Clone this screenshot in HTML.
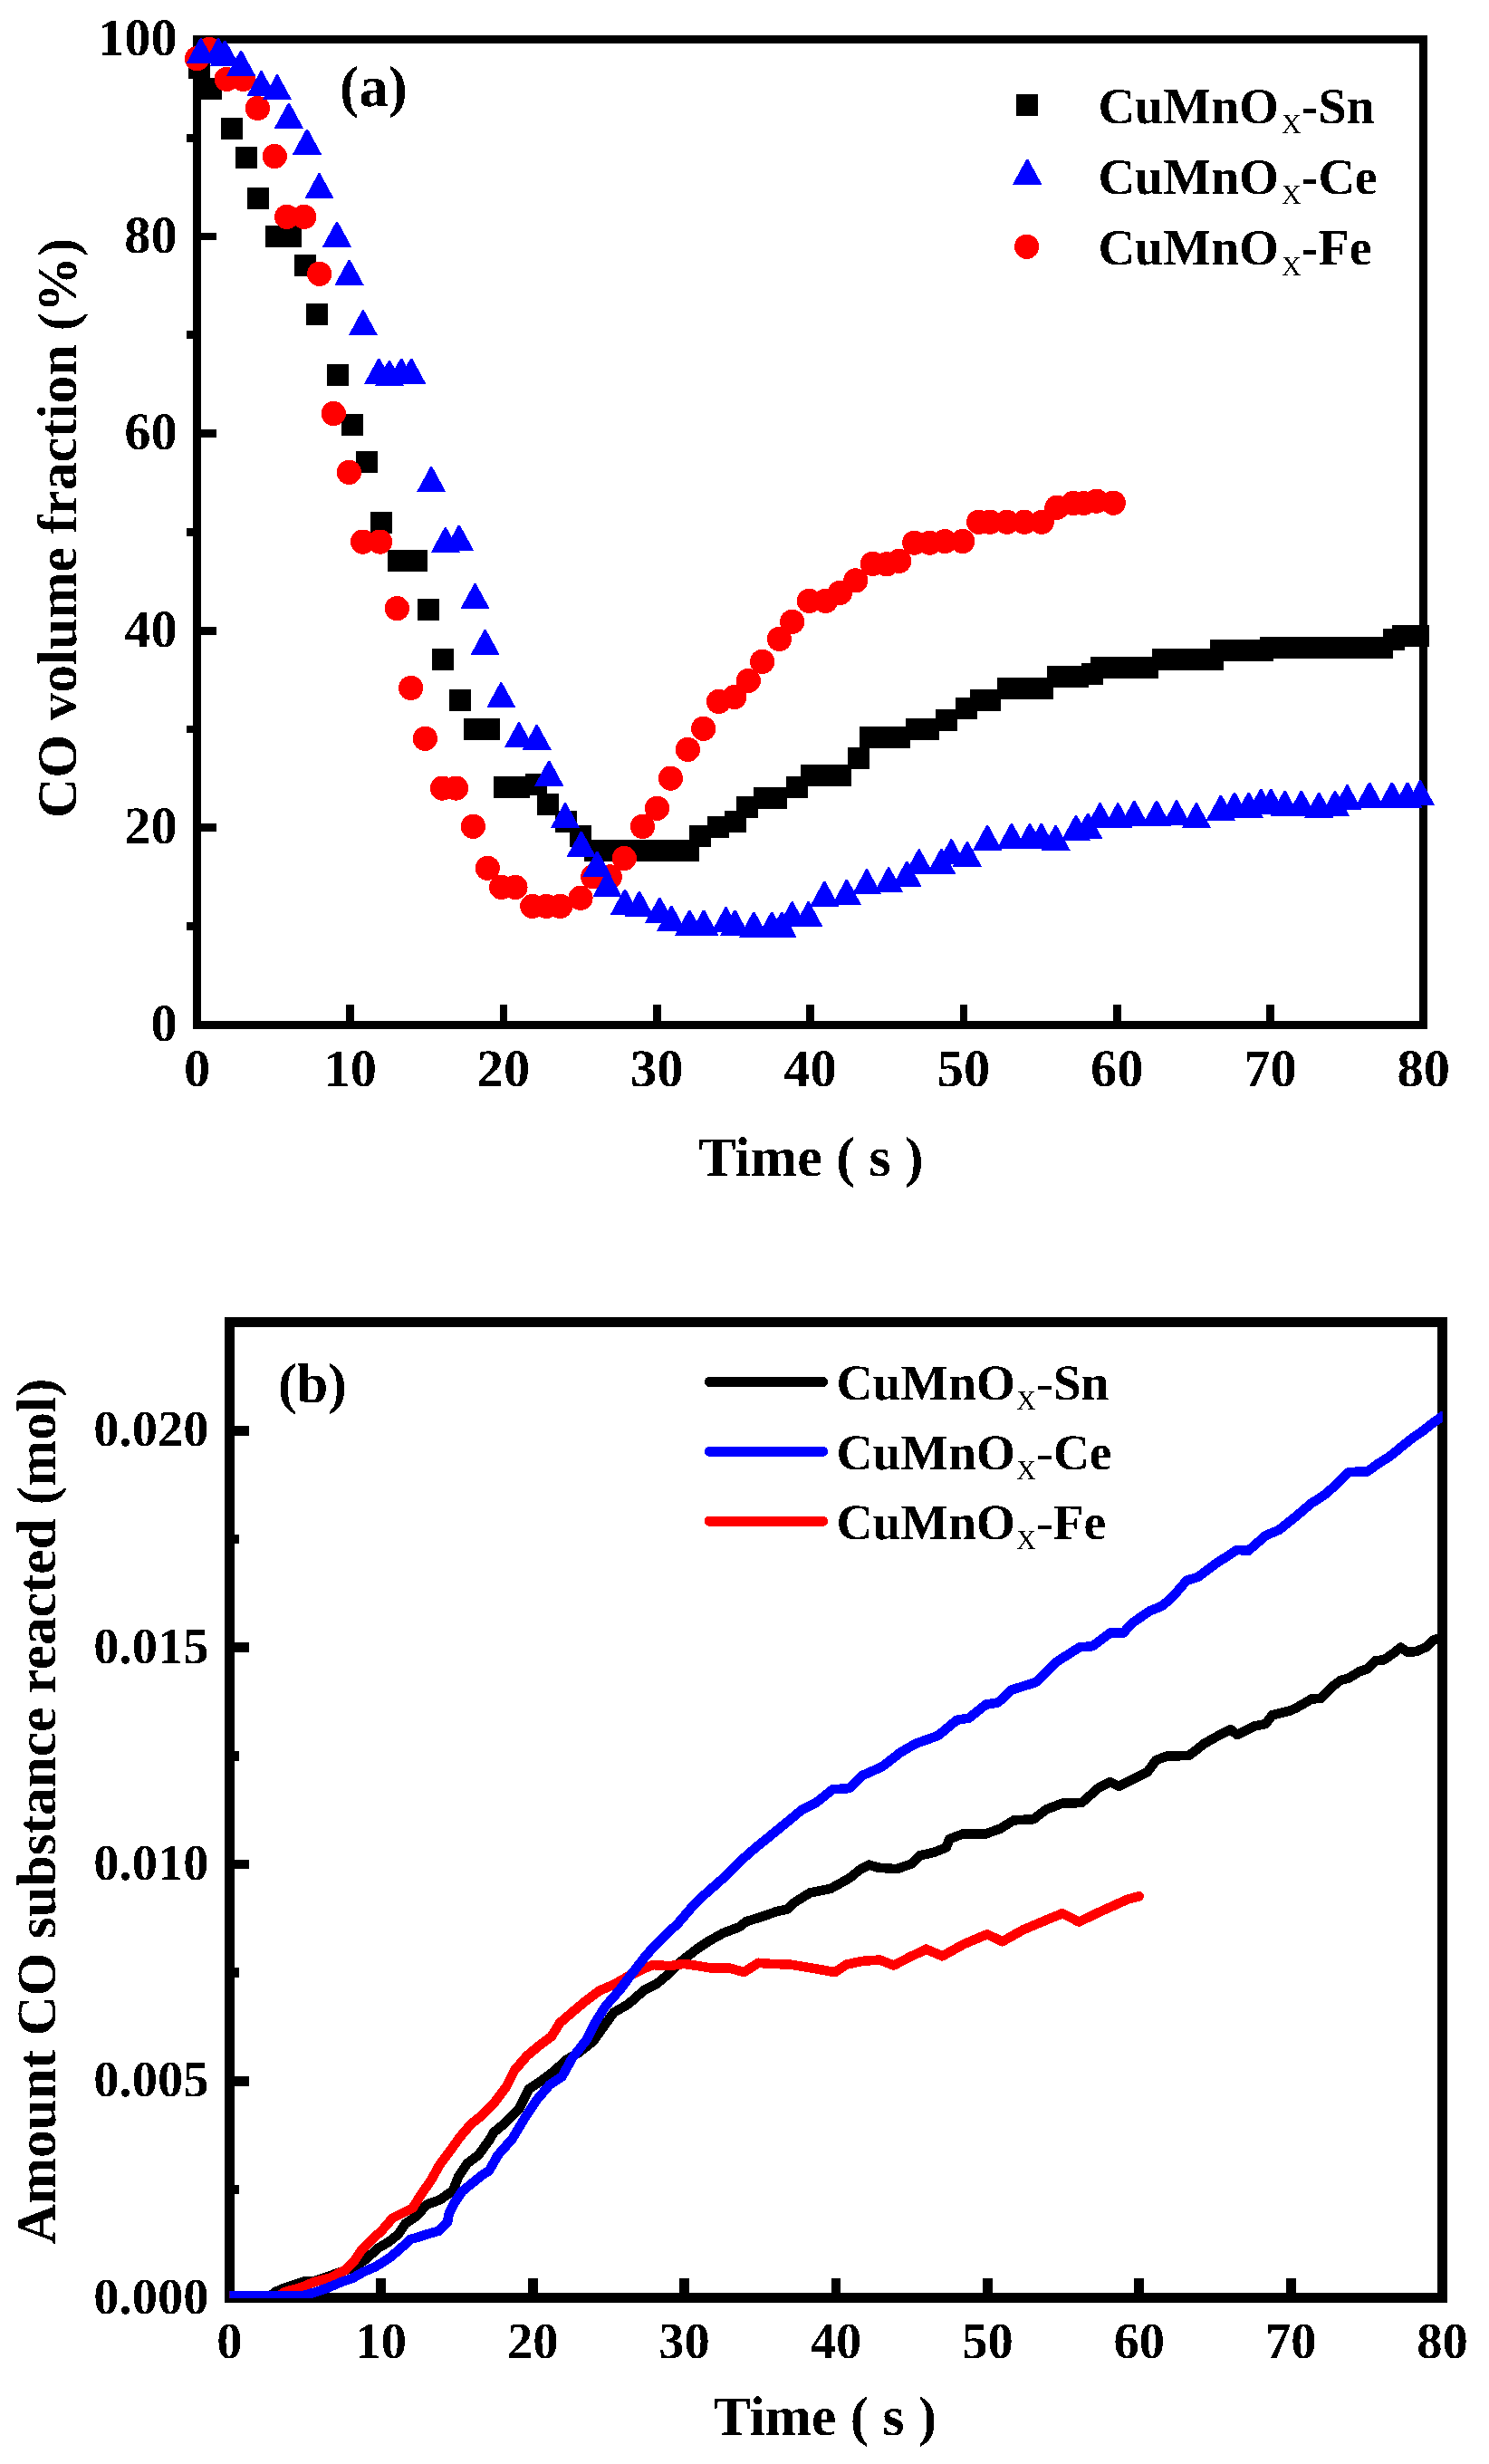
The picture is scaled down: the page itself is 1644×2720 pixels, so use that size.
<!DOCTYPE html>
<html lang="en"><head><meta charset="utf-8"><title>CO oxidation over CuMnOx catalysts</title>
<style>
html,body{margin:0;padding:0;background:#fff;}
body{width:1644px;height:2720px;overflow:hidden;}
svg{display:block;}
text{font-family:"Liberation Serif",serif;font-weight:bold;fill:#000;}
.sub{font-weight:normal;}
</style></head><body>
<svg width="1644" height="2720" viewBox="0 0 1644 2720" shape-rendering="crispEdges" text-rendering="geometricPrecision">
<rect x="0" y="0" width="1644" height="2720" fill="#fff"/>
<defs><filter id="thr" x="0" y="0" width="1644" height="2720" filterUnits="userSpaceOnUse" color-interpolation-filters="sRGB"><feComponentTransfer><feFuncA type="discrete" tableValues="0 1"/></feComponentTransfer></filter></defs>
<g id="chart-a">
<rect x="217.5" y="43.6" width="1354.2" height="1088.0" fill="none" stroke="#000" stroke-width="8.9"/>
<rect x="217.5" y="909.3" width="21.5" height="8.8" fill="#000"/>
<rect x="217.5" y="691.7" width="21.5" height="8.8" fill="#000"/>
<rect x="217.5" y="474.2" width="21.5" height="8.8" fill="#000"/>
<rect x="217.5" y="256.6" width="21.5" height="8.8" fill="#000"/>
<rect x="206" y="1018.0" width="8" height="8.8" fill="#000"/>
<rect x="206" y="800.5" width="8" height="8.8" fill="#000"/>
<rect x="206" y="583.0" width="8" height="8.8" fill="#000"/>
<rect x="206" y="365.4" width="8" height="8.8" fill="#000"/>
<rect x="206" y="147.9" width="8" height="8.8" fill="#000"/>
<rect x="382.4" y="1109" width="8.7" height="20" fill="#000"/>
<rect x="551.7" y="1109" width="8.7" height="20" fill="#000"/>
<rect x="721.0" y="1109" width="8.7" height="20" fill="#000"/>
<rect x="890.2" y="1109" width="8.7" height="20" fill="#000"/>
<rect x="1059.5" y="1109" width="8.7" height="20" fill="#000"/>
<rect x="1228.8" y="1109" width="8.7" height="20" fill="#000"/>
<rect x="1398.1" y="1109" width="8.7" height="20" fill="#000"/>
<g fill="#000">
<rect x="207.9" y="62.7" width="24" height="24"/>
<rect x="221.0" y="85.8" width="24" height="24"/>
<rect x="244.1" y="129.8" width="24" height="24"/>
<rect x="260.0" y="162.1" width="24" height="24"/>
<rect x="272.9" y="207.0" width="24" height="24"/>
<rect x="293.1" y="249.0" width="24" height="24"/>
<rect x="309.0" y="249.0" width="24" height="24"/>
<rect x="325.0" y="280.9" width="24" height="24"/>
<rect x="337.9" y="334.9" width="24" height="24"/>
<rect x="360.5" y="401.9" width="24" height="24"/>
<rect x="377.0" y="456.8" width="24" height="24"/>
<rect x="393.0" y="497.9" width="24" height="24"/>
<rect x="409.0" y="565.0" width="24" height="24"/>
<rect x="427.9" y="606.9" width="24" height="24"/>
<rect x="448.1" y="606.9" width="24" height="24"/>
<rect x="461.0" y="661.3" width="24" height="24"/>
<rect x="476.9" y="715.9" width="24" height="24"/>
<rect x="495.9" y="761.0" width="24" height="24"/>
<rect x="512.1" y="792.9" width="24" height="24"/>
<rect x="528.0" y="792.9" width="24" height="24"/>
<rect x="545.0" y="857.1" width="24" height="24"/>
<rect x="560.7" y="857.1" width="24" height="24"/>
<rect x="579.9" y="854.0" width="24" height="24"/>
<rect x="593.0" y="875.9" width="24" height="24"/>
<rect x="612.9" y="894.9" width="24" height="24"/>
<rect x="629.0" y="911.0" width="24" height="24"/>
<rect x="645.1" y="926.8" width="24" height="24"/>
<rect x="662.2" y="926.8" width="24" height="24"/>
<rect x="679.4" y="926.8" width="24" height="24"/>
<rect x="696.5" y="926.8" width="24" height="24"/>
<rect x="713.7" y="926.8" width="24" height="24"/>
<rect x="730.8" y="926.8" width="24" height="24"/>
<rect x="748.0" y="926.8" width="24" height="24"/>
<rect x="761.0" y="911.1" width="24" height="24"/>
<rect x="781.0" y="901.0" width="24" height="24"/>
<rect x="800.0" y="894.9" width="24" height="24"/>
<rect x="812.9" y="878.8" width="24" height="24"/>
<rect x="832.1" y="868.9" width="24" height="24"/>
<rect x="845.0" y="868.9" width="24" height="24"/>
<rect x="868.0" y="856.9" width="24" height="24"/>
<rect x="884.1" y="844.0" width="24" height="24"/>
<rect x="900.0" y="844.0" width="24" height="24"/>
<rect x="915.9" y="844.0" width="24" height="24"/>
<rect x="935.9" y="825.0" width="24" height="24"/>
<rect x="949.1" y="801.9" width="24" height="24"/>
<rect x="965.0" y="801.9" width="24" height="24"/>
<rect x="981.0" y="801.9" width="24" height="24"/>
<rect x="999.9" y="793.0" width="24" height="24"/>
<rect x="1012.8" y="793.0" width="24" height="24"/>
<rect x="1033.0" y="782.9" width="24" height="24"/>
<rect x="1055.0" y="770.0" width="24" height="24"/>
<rect x="1070.9" y="760.9" width="24" height="24"/>
<rect x="1081.0" y="760.9" width="24" height="24"/>
<rect x="1100.9" y="748.0" width="24" height="24"/>
<rect x="1119.9" y="748.0" width="24" height="24"/>
<rect x="1138.8" y="748.0" width="24" height="24"/>
<rect x="1155.9" y="734.9" width="24" height="24"/>
<rect x="1177.9" y="734.9" width="24" height="24"/>
<rect x="1194.0" y="732.0" width="24" height="24"/>
<rect x="1204.1" y="725.4" width="24" height="24"/>
<rect x="1221.1" y="725.4" width="24" height="24"/>
<rect x="1238.0" y="725.4" width="24" height="24"/>
<rect x="1255.1" y="725.4" width="24" height="24"/>
<rect x="1272.0" y="715.9" width="24" height="24"/>
<rect x="1290.3" y="715.9" width="24" height="24"/>
<rect x="1308.6" y="715.9" width="24" height="24"/>
<rect x="1326.9" y="715.9" width="24" height="24"/>
<rect x="1336.0" y="706.0" width="24" height="24"/>
<rect x="1351.3" y="706.0" width="24" height="24"/>
<rect x="1366.6" y="706.0" width="24" height="24"/>
<rect x="1381.9" y="706.0" width="24" height="24"/>
<rect x="1391.0" y="703.0" width="24" height="24"/>
<rect x="1408.6" y="703.0" width="24" height="24"/>
<rect x="1426.1" y="703.0" width="24" height="24"/>
<rect x="1443.7" y="703.0" width="24" height="24"/>
<rect x="1461.2" y="703.0" width="24" height="24"/>
<rect x="1478.8" y="703.0" width="24" height="24"/>
<rect x="1496.3" y="703.0" width="24" height="24"/>
<rect x="1513.9" y="703.0" width="24" height="24"/>
<rect x="1527.1" y="693.5" width="24" height="24"/>
<rect x="1537.3" y="690.0" width="24" height="24"/>
<rect x="1553.8" y="690.0" width="24" height="24"/>
</g>
<g fill="#ff0000">
<circle cx="217.5" cy="64.6" r="13.6"/>
<circle cx="231.0" cy="54.6" r="13.6"/>
<circle cx="250.2" cy="87.4" r="13.6"/>
<circle cx="268.5" cy="87.4" r="13.6"/>
<circle cx="284.4" cy="119.5" r="13.6"/>
<circle cx="303.3" cy="172.5" r="13.6"/>
<circle cx="316.6" cy="239.4" r="13.6"/>
<circle cx="335.7" cy="239.4" r="13.6"/>
<circle cx="352.7" cy="302.3" r="13.6"/>
<circle cx="368.3" cy="456.5" r="13.6"/>
<circle cx="385.4" cy="521.4" r="13.6"/>
<circle cx="400.5" cy="598.1" r="13.6"/>
<circle cx="419.6" cy="598.1" r="13.6"/>
<circle cx="438.4" cy="671.6" r="13.6"/>
<circle cx="453.6" cy="759.5" r="13.6"/>
<circle cx="469.4" cy="815.3" r="13.6"/>
<circle cx="488.4" cy="870.1" r="13.6"/>
<circle cx="503.6" cy="870.1" r="13.6"/>
<circle cx="522.4" cy="912.3" r="13.6"/>
<circle cx="538.3" cy="958.3" r="13.6"/>
<circle cx="553.6" cy="979.4" r="13.6"/>
<circle cx="569.0" cy="979.4" r="13.6"/>
<circle cx="587.8" cy="1000.4" r="13.6"/>
<circle cx="603.2" cy="1000.4" r="13.6"/>
<circle cx="618.6" cy="1000.4" r="13.6"/>
<circle cx="641.0" cy="991.3" r="13.6"/>
<circle cx="654.8" cy="967.9" r="13.6"/>
<circle cx="673.3" cy="967.9" r="13.6"/>
<circle cx="689.3" cy="947.5" r="13.6"/>
<circle cx="709.5" cy="912.4" r="13.6"/>
<circle cx="725.5" cy="892.3" r="13.6"/>
<circle cx="740.4" cy="859.2" r="13.6"/>
<circle cx="759.4" cy="827.4" r="13.6"/>
<circle cx="776.7" cy="804.3" r="13.6"/>
<circle cx="793.5" cy="774.5" r="13.6"/>
<circle cx="810.7" cy="769.5" r="13.6"/>
<circle cx="826.3" cy="751.5" r="13.6"/>
<circle cx="841.6" cy="730.4" r="13.6"/>
<circle cx="860.5" cy="705.4" r="13.6"/>
<circle cx="874.6" cy="686.4" r="13.6"/>
<circle cx="893.4" cy="663.4" r="13.6"/>
<circle cx="911.5" cy="663.4" r="13.6"/>
<circle cx="927.6" cy="654.3" r="13.6"/>
<circle cx="944.7" cy="640.9" r="13.6"/>
<circle cx="963.4" cy="622.4" r="13.6"/>
<circle cx="978.8" cy="622.8" r="13.6"/>
<circle cx="992.6" cy="619.4" r="13.6"/>
<circle cx="1009.7" cy="599.2" r="13.6"/>
<circle cx="1026.5" cy="599.2" r="13.6"/>
<circle cx="1043.3" cy="597.6" r="13.6"/>
<circle cx="1062.7" cy="597.5" r="13.6"/>
<circle cx="1080.6" cy="576.3" r="13.6"/>
<circle cx="1093.1" cy="576.3" r="13.6"/>
<circle cx="1111.8" cy="576.3" r="13.6"/>
<circle cx="1131.0" cy="576.3" r="13.6"/>
<circle cx="1150.3" cy="576.3" r="13.6"/>
<circle cx="1166.9" cy="560.2" r="13.6"/>
<circle cx="1184.8" cy="555.5" r="13.6"/>
<circle cx="1196.5" cy="555.5" r="13.6"/>
<circle cx="1210.6" cy="553.2" r="13.6"/>
<circle cx="1229.3" cy="555.2" r="13.6"/>
</g>
<g fill="#0000ff">
<polygon points="220.6,42.4 222.6,42.4 237.8,70.4 205.4,70.4"/>
<polygon points="240.1,42.4 242.1,42.4 257.3,70.4 224.9,70.4"/>
<polygon points="247.4,44.8 249.4,44.8 264.6,72.8 232.2,72.8"/>
<polygon points="265.1,55.9 267.1,55.9 282.3,83.9 249.9,83.9"/>
<polygon points="287.5,78.3 289.5,78.3 304.7,106.3 272.3,106.3"/>
<polygon points="305.0,82.4 307.0,82.4 322.2,110.4 289.8,110.4"/>
<polygon points="317.9,113.8 319.9,113.8 335.1,141.8 302.7,141.8"/>
<polygon points="338.0,142.7 340.0,142.7 355.2,170.7 322.8,170.7"/>
<polygon points="351.5,191.3 353.5,191.3 368.7,219.3 336.3,219.3"/>
<polygon points="371.0,244.8 373.0,244.8 388.2,272.8 355.8,272.8"/>
<polygon points="384.6,286.9 386.6,286.9 401.8,314.9 369.4,314.9"/>
<polygon points="399.9,342.4 401.9,342.4 417.1,370.4 384.7,370.4"/>
<polygon points="417.3,395.7 419.3,395.7 434.5,423.7 402.1,423.7"/>
<polygon points="429.0,397.9 431.0,397.9 446.2,425.9 413.8,425.9"/>
<polygon points="442.1,395.7 444.1,395.7 459.3,423.7 426.9,423.7"/>
<polygon points="453.1,395.7 455.1,395.7 470.3,423.7 437.9,423.7"/>
<polygon points="475.2,515.2 477.2,515.2 492.4,543.2 460.0,543.2"/>
<polygon points="490.8,582.2 492.8,582.2 508.0,610.2 475.6,610.2"/>
<polygon points="505.9,579.7 507.9,579.7 523.1,607.7 490.7,607.7"/>
<polygon points="523.5,644.2 525.5,644.2 540.7,672.2 508.3,672.2"/>
<polygon points="534.6,695.1 536.6,695.1 551.8,723.1 519.4,723.1"/>
<polygon points="552.3,753.3 554.3,753.3 569.5,781.3 537.1,781.3"/>
<polygon points="572.0,797.3 574.0,797.3 589.2,825.3 556.8,825.3"/>
<polygon points="591.7,800.0 593.7,800.0 608.9,828.0 576.5,828.0"/>
<polygon points="605.2,839.7 607.2,839.7 622.4,867.7 590.0,867.7"/>
<polygon points="623.0,886.3 625.0,886.3 640.2,914.3 607.8,914.3"/>
<polygon points="640.8,917.8 642.8,917.8 658.0,945.8 625.6,945.8"/>
<polygon points="658.4,939.7 660.4,939.7 675.6,967.7 643.2,967.7"/>
<polygon points="669.6,961.9 671.6,961.9 686.8,989.9 654.4,989.9"/>
<polygon points="689.0,981.7 691.0,981.7 706.2,1009.7 673.8,1009.7"/>
<polygon points="704.9,983.8 706.9,983.8 722.1,1011.8 689.7,1011.8"/>
<polygon points="727.3,990.7 729.3,990.7 744.5,1018.7 712.1,1018.7"/>
<polygon points="740.3,999.7 742.3,999.7 757.5,1027.7 725.1,1027.7"/>
<polygon points="760.3,1004.5 762.3,1004.5 777.5,1032.5 745.1,1032.5"/>
<polygon points="776.0,1004.5 778.0,1004.5 793.2,1032.5 760.8,1032.5"/>
<polygon points="800.5,1001.2 802.5,1001.2 817.7,1029.2 785.3,1029.2"/>
<polygon points="810.5,1004.6 812.5,1004.6 827.7,1032.6 795.3,1032.6"/>
<polygon points="831.3,1006.5 833.3,1006.5 848.5,1034.5 816.1,1034.5"/>
<polygon points="851.2,1006.5 853.2,1006.5 868.4,1034.5 836.0,1034.5"/>
<polygon points="862.3,1006.5 864.3,1006.5 879.5,1034.5 847.1,1034.5"/>
<polygon points="873.6,995.4 875.6,995.4 890.8,1023.4 858.4,1023.4"/>
<polygon points="891.5,995.4 893.5,995.4 908.7,1023.4 876.3,1023.4"/>
<polygon points="909.3,972.8 911.3,972.8 926.5,1000.8 894.1,1000.8"/>
<polygon points="933.8,970.8 935.8,970.8 951.0,998.8 918.6,998.8"/>
<polygon points="956.0,959.4 958.0,959.4 973.2,987.4 940.8,987.4"/>
<polygon points="980.2,957.4 982.2,957.4 997.4,985.4 965.0,985.4"/>
<polygon points="1000.3,950.6 1002.3,950.6 1017.5,978.6 985.1,978.6"/>
<polygon points="1013.7,937.4 1015.7,937.4 1030.9,965.4 998.5,965.4"/>
<polygon points="1038.3,937.1 1040.3,937.1 1055.5,965.1 1023.1,965.1"/>
<polygon points="1049.4,926.4 1051.4,926.4 1066.6,954.4 1034.2,954.4"/>
<polygon points="1066.9,929.0 1068.9,929.0 1084.1,957.0 1051.7,957.0"/>
<polygon points="1089.1,910.9 1091.1,910.9 1106.3,938.9 1073.9,938.9"/>
<polygon points="1115.9,908.9 1117.9,908.9 1133.1,936.9 1100.7,936.9"/>
<polygon points="1136.0,908.9 1138.0,908.9 1153.2,936.9 1120.8,936.9"/>
<polygon points="1148.7,908.9 1150.7,908.9 1165.9,936.9 1133.5,936.9"/>
<polygon points="1164.6,910.9 1166.6,910.9 1181.8,938.9 1149.4,938.9"/>
<polygon points="1187.0,899.8 1189.0,899.8 1204.2,927.8 1171.8,927.8"/>
<polygon points="1200.1,897.7 1202.1,897.7 1217.3,925.7 1184.9,925.7"/>
<polygon points="1213.6,886.3 1215.6,886.3 1230.8,914.3 1198.4,914.3"/>
<polygon points="1233.3,886.3 1235.3,886.3 1250.5,914.3 1218.1,914.3"/>
<polygon points="1251.3,883.7 1253.3,883.7 1268.5,911.7 1236.1,911.7"/>
<polygon points="1276.0,883.7 1278.0,883.7 1293.2,911.7 1260.8,911.7"/>
<polygon points="1298.1,883.4 1300.1,883.4 1315.3,911.4 1282.9,911.4"/>
<polygon points="1319.9,886.2 1321.9,886.2 1337.1,914.2 1304.7,914.2"/>
<polygon points="1346.9,877.7 1348.9,877.7 1364.1,905.7 1331.7,905.7"/>
<polygon points="1362.0,874.6 1364.0,874.6 1379.2,902.6 1346.8,902.6"/>
<polygon points="1377.7,874.6 1379.7,874.6 1394.9,902.6 1362.5,902.6"/>
<polygon points="1391.2,870.8 1393.2,870.8 1408.4,898.8 1376.0,898.8"/>
<polygon points="1402.3,870.8 1404.3,870.8 1419.5,898.8 1387.1,898.8"/>
<polygon points="1417.6,872.8 1419.6,872.8 1434.8,900.8 1402.4,900.8"/>
<polygon points="1435.8,872.8 1437.8,872.8 1453.0,900.8 1420.6,900.8"/>
<polygon points="1455.3,874.6 1457.3,874.6 1472.5,902.6 1440.1,902.6"/>
<polygon points="1473.0,872.8 1475.0,872.8 1490.2,900.8 1457.8,900.8"/>
<polygon points="1486.5,866.3 1488.5,866.3 1503.7,894.3 1471.3,894.3"/>
<polygon points="1511.1,863.5 1513.1,863.5 1528.3,891.5 1495.9,891.5"/>
<polygon points="1535.9,863.5 1537.9,863.5 1553.1,891.5 1520.7,891.5"/>
<polygon points="1553.0,863.5 1555.0,863.5 1570.2,891.5 1537.8,891.5"/>
<polygon points="1567.1,861.4 1569.1,861.4 1584.3,889.4 1551.9,889.4"/>
</g>
<rect x="1121.8" y="103.9" width="24" height="24" fill="#000"/>
<polygon points="1133.2,175.8 1135.2,175.8 1150.4,203.8 1118.0,203.8" fill="#0000ff"/>
<circle cx="1133.6" cy="272.3" r="13.6" fill="#ff0000"/>
</g>
<g id="chart-b">
<rect x="253.4" y="1459.5" width="1339.2" height="1076.8" fill="none" stroke="#000" stroke-width="10.8"/>
<rect x="253.4" y="2291.9" width="21.6" height="10.8" fill="#000"/>
<rect x="253.4" y="2052.6" width="21.6" height="10.8" fill="#000"/>
<rect x="253.4" y="1813.3" width="21.6" height="10.8" fill="#000"/>
<rect x="253.4" y="1574.0" width="21.6" height="10.8" fill="#000"/>
<rect x="253.4" y="2411.5" width="10.8" height="10.8" fill="#000"/>
<rect x="253.4" y="2172.2" width="10.8" height="10.8" fill="#000"/>
<rect x="253.4" y="1932.9" width="10.8" height="10.8" fill="#000"/>
<rect x="253.4" y="1693.6" width="10.8" height="10.8" fill="#000"/>
<rect x="415.4" y="2515.2" width="10.8" height="20" fill="#000"/>
<rect x="582.8" y="2515.2" width="10.8" height="20" fill="#000"/>
<rect x="750.2" y="2515.2" width="10.8" height="20" fill="#000"/>
<rect x="917.6" y="2515.2" width="10.8" height="20" fill="#000"/>
<rect x="1085.0" y="2515.2" width="10.8" height="20" fill="#000"/>
<rect x="1252.4" y="2515.2" width="10.8" height="20" fill="#000"/>
<rect x="1419.8" y="2515.2" width="10.8" height="20" fill="#000"/>
<clipPath id="clipb"><rect x="253.4" y="1459.5" width="1339.4" height="1077.4"/></clipPath>
<g clip-path="url(#clipb)" fill="none" stroke-width="10.6" stroke-linecap="round" stroke-linejoin="round">
<polyline points="253.4,2533.8 299.0,2533.8 304.0,2530.1 312.5,2526.1 324.6,2522.1 334.7,2518.7 348.8,2517.7 364.9,2512.0 379.0,2507.0 393.1,2501.9 405.2,2492.9 417.3,2481.8 429.4,2474.7 439.5,2466.7 447.5,2454.6 459.6,2446.5 471.7,2433.4 485.8,2428.4 499.9,2418.3 506.0,2403.2 516.0,2388.1 528.1,2379.0 540.0,2362.9 545.1,2354.0 558.8,2342.6 572.5,2328.9 583.9,2306.1 597.6,2296.9 611.3,2286.7 625.0,2274.1 638.7,2266.1 654.7,2253.6 666.2,2237.6 677.6,2221.6 693.6,2212.4 711.8,2196.5 725.5,2189.6 739.2,2178.2 752.9,2164.5 768.9,2151.9 782.6,2142.8 798.3,2134.0 816.5,2127.1 823.4,2121.4 841.7,2115.7 857.6,2110.0 869.1,2107.7 875.9,2100.9 894.2,2089.5 917.0,2084.9 937.6,2073.5 949.0,2064.3 959.3,2058.6 969.5,2061.6 990.1,2063.2 1006.1,2057.5 1015.2,2048.4 1031.2,2044.9 1044.9,2039.2 1048.3,2030.1 1063.2,2024.4 1088.3,2024.4 1104.3,2018.7 1119.3,2009.4 1141.1,2008.2 1155.6,1997.3 1172.5,1990.8 1194.3,1990.0 1213.6,1973.1 1225.7,1967.1 1235.4,1971.9 1254.7,1962.2 1266.8,1956.2 1276.5,1942.9 1288.6,1938.5 1312.8,1938.0 1329.7,1924.7 1349.0,1913.9 1358.7,1909.0 1366.0,1915.1 1385.3,1905.4 1397.4,1903.0 1404.6,1893.3 1424.0,1888.5 1430.8,1885.6 1440.1,1880.2 1447.8,1875.6 1458.6,1874.8 1469.4,1863.3 1480.2,1854.8 1489.4,1852.5 1500.2,1845.5 1509.5,1842.4 1518.7,1833.2 1528.0,1832.4 1538.8,1824.7 1546.5,1818.5 1554.2,1823.9 1563.5,1823.1 1575.8,1817.7 1583.5,1810.0 1592.8,1807.5" stroke="#000"/>
<polyline points="253.4,2533.8 309.0,2533.8 314.5,2530.1 332.7,2525.1 346.8,2519.1 364.9,2514.4 381.0,2506.0 391.1,2495.9 399.2,2483.8 411.3,2471.7 421.3,2462.6 433.4,2448.5 443.5,2443.5 455.6,2437.5 465.7,2421.3 475.7,2407.2 485.8,2389.1 497.9,2373.0 508.0,2358.9 520.1,2344.8 531.4,2335.8 545.1,2322.1 558.8,2303.8 568.0,2285.5 581.7,2269.5 595.4,2258.1 609.1,2247.8 618.2,2233.0 634.2,2219.3 647.9,2207.9 661.6,2197.6 677.6,2190.8 693.6,2181.6 709.5,2173.6 721.0,2169.1 739.2,2170.2 755.2,2167.9 771.2,2170.2 784.9,2172.5 805.5,2172.5 821.4,2177.1 837.4,2166.8 850.0,2167.8 872.6,2168.6 898.0,2172.8 921.9,2177.1 934.6,2168.6 951.6,2164.9 971.3,2163.5 986.8,2169.5 1005.1,2160.1 1022.6,2151.7 1040.4,2159.3 1064.4,2146.0 1089.8,2135.3 1106.7,2143.2 1129.3,2130.5 1149.0,2122.1 1173.0,2112.2 1191.3,2121.5 1216.7,2109.4 1244.9,2096.7 1257.6,2093.3" stroke="#ff0000"/>
<polyline points="253.4,2533.8 336.0,2533.8 349.0,2530.1 362.9,2525.1 377.0,2519.1 389.1,2515.0 401.2,2508.0 415.3,2501.9 429.4,2492.9 441.5,2482.8 453.6,2471.7 461.6,2469.7 473.7,2465.7 484.8,2462.6 493.9,2453.6 495.9,2443.5 501.9,2431.4 510.0,2419.3 522.1,2409.3 532.2,2401.2 540.0,2396.2 549.7,2379.1 565.7,2360.9 579.4,2338.0 593.1,2317.5 606.8,2301.5 620.5,2292.4 631.9,2271.8 647.9,2251.3 657.0,2233.0 668.4,2214.7 684.4,2196.5 698.1,2178.2 714.1,2157.6 730.1,2140.5 748.4,2123.4 762.1,2107.4 778.0,2091.4 798.3,2073.5 816.5,2055.2 834.8,2039.2 853.1,2024.4 871.3,2009.5 885.0,1998.1 901.0,1990.1 919.3,1975.3 937.6,1974.1 951.3,1960.4 974.1,1950.2 994.7,1934.2 1010.6,1925.0 1035.8,1915.9 1056.3,1898.8 1070.0,1896.5 1088.3,1881.7 1102.0,1879.4 1116.9,1865.5 1143.5,1857.1 1165.3,1835.3 1191.9,1818.4 1206.4,1817.2 1225.7,1802.6 1240.2,1802.6 1249.9,1791.8 1269.2,1778.5 1283.8,1772.4 1295.8,1761.5 1310.3,1744.6 1322.4,1741.0 1341.8,1726.5 1366.0,1710.8 1378.0,1712.0 1397.4,1695.1 1411.9,1689.0 1432.3,1672.7 1447.8,1659.6 1463.2,1649.6 1477.1,1637.2 1489.4,1624.9 1509.5,1624.6 1521.8,1615.6 1534.2,1607.9 1546.5,1597.9 1558.8,1587.9 1571.2,1579.4 1582.0,1570.9 1592.8,1563.2" stroke="#0000ff"/>
</g>
<line x1="783.2" y1="1525.4" x2="908.6" y2="1525.4" stroke="#000" stroke-width="11" stroke-linecap="round"/>
<line x1="783.2" y1="1602.3" x2="908.6" y2="1602.3" stroke="#0000ff" stroke-width="11" stroke-linecap="round"/>
<line x1="783.2" y1="1679.2" x2="908.6" y2="1679.2" stroke="#ff0000" stroke-width="11" stroke-linecap="round"/>
</g>
<g id="labels" filter="url(#thr)">
<text x="195.7" y="1148.9" font-size="58.5" text-anchor="end">0</text>
<text x="195.7" y="931.4" font-size="58.5" text-anchor="end">20</text>
<text x="195.7" y="713.8" font-size="58.5" text-anchor="end">40</text>
<text x="195.7" y="496.3" font-size="58.5" text-anchor="end">60</text>
<text x="195.7" y="278.7" font-size="58.5" text-anchor="end">80</text>
<text x="195.7" y="61.2" font-size="58.5" text-anchor="end">100</text>
<text x="217.5" y="1199.1" font-size="58.5" text-anchor="middle">0</text>
<text x="386.8" y="1199.1" font-size="58.5" text-anchor="middle">10</text>
<text x="556.0" y="1199.1" font-size="58.5" text-anchor="middle">20</text>
<text x="725.3" y="1199.1" font-size="58.5" text-anchor="middle">30</text>
<text x="894.6" y="1199.1" font-size="58.5" text-anchor="middle">40</text>
<text x="1063.9" y="1199.1" font-size="58.5" text-anchor="middle">50</text>
<text x="1233.2" y="1199.1" font-size="58.5" text-anchor="middle">60</text>
<text x="1402.4" y="1199.1" font-size="58.5" text-anchor="middle">70</text>
<text x="1571.7" y="1199.1" font-size="58.5" text-anchor="middle">80</text>
<text x="895.4" y="1297.5" font-size="62" text-anchor="middle">Time ( s )</text>
<text transform="translate(84,583) rotate(-90)" font-size="61.5" text-anchor="middle">CO volume fraction (%)</text>
<text x="412.4" y="116.6" font-size="64" text-anchor="middle">(a)</text>
<text x="1212.6" y="136.1" font-size="56">CuMnO<tspan class="sub" font-size="30.5" dx="3" dy="11.3">X</tspan><tspan dy="-11.3">-Sn</tspan></text>
<text x="1212.6" y="213.5" font-size="56">CuMnO<tspan class="sub" font-size="30.5" dx="3" dy="11.3">X</tspan><tspan dy="-11.3">-Ce</tspan></text>
<text x="1212.6" y="292.4" font-size="56">CuMnO<tspan class="sub" font-size="30.5" dx="3" dy="11.3">X</tspan><tspan dy="-11.3">-Fe</tspan></text>
<text x="230.4" y="2553.6" font-size="56.5" text-anchor="end">0.000</text>
<text x="230.4" y="2314.3" font-size="56.5" text-anchor="end">0.005</text>
<text x="230.4" y="2075.0" font-size="56.5" text-anchor="end">0.010</text>
<text x="230.4" y="1835.7" font-size="56.5" text-anchor="end">0.015</text>
<text x="230.4" y="1596.4" font-size="56.5" text-anchor="end">0.020</text>
<text x="253.4" y="2603.2" font-size="56.5" text-anchor="middle">0</text>
<text x="420.8" y="2603.2" font-size="56.5" text-anchor="middle">10</text>
<text x="588.2" y="2603.2" font-size="56.5" text-anchor="middle">20</text>
<text x="755.6" y="2603.2" font-size="56.5" text-anchor="middle">30</text>
<text x="923.0" y="2603.2" font-size="56.5" text-anchor="middle">40</text>
<text x="1090.4" y="2603.2" font-size="56.5" text-anchor="middle">50</text>
<text x="1257.8" y="2603.2" font-size="56.5" text-anchor="middle">60</text>
<text x="1425.2" y="2603.2" font-size="56.5" text-anchor="middle">70</text>
<text x="1592.6" y="2603.2" font-size="56.5" text-anchor="middle">80</text>
<text x="911.1" y="2687.5" font-size="61.5" text-anchor="middle">Time ( s )</text>
<text transform="translate(60.9,1999.5) rotate(-90)" font-size="61.3" text-anchor="middle">Amount CO substance reacted (mol)</text>
<text x="345" y="1547.5" font-size="62" text-anchor="middle">(b)</text>
<text x="923.4" y="1544.8" font-size="55.6">CuMnO<tspan class="sub" font-size="30.5" dx="1" dy="11.3">X</tspan><tspan dy="-11.3">-Sn</tspan></text>
<text x="923.4" y="1621.8" font-size="55.6">CuMnO<tspan class="sub" font-size="30.5" dx="1" dy="11.3">X</tspan><tspan dy="-11.3">-Ce</tspan></text>
<text x="923.4" y="1698.8" font-size="55.6">CuMnO<tspan class="sub" font-size="30.5" dx="1" dy="11.3">X</tspan><tspan dy="-11.3">-Fe</tspan></text>
</g>
</svg>
</body></html>
